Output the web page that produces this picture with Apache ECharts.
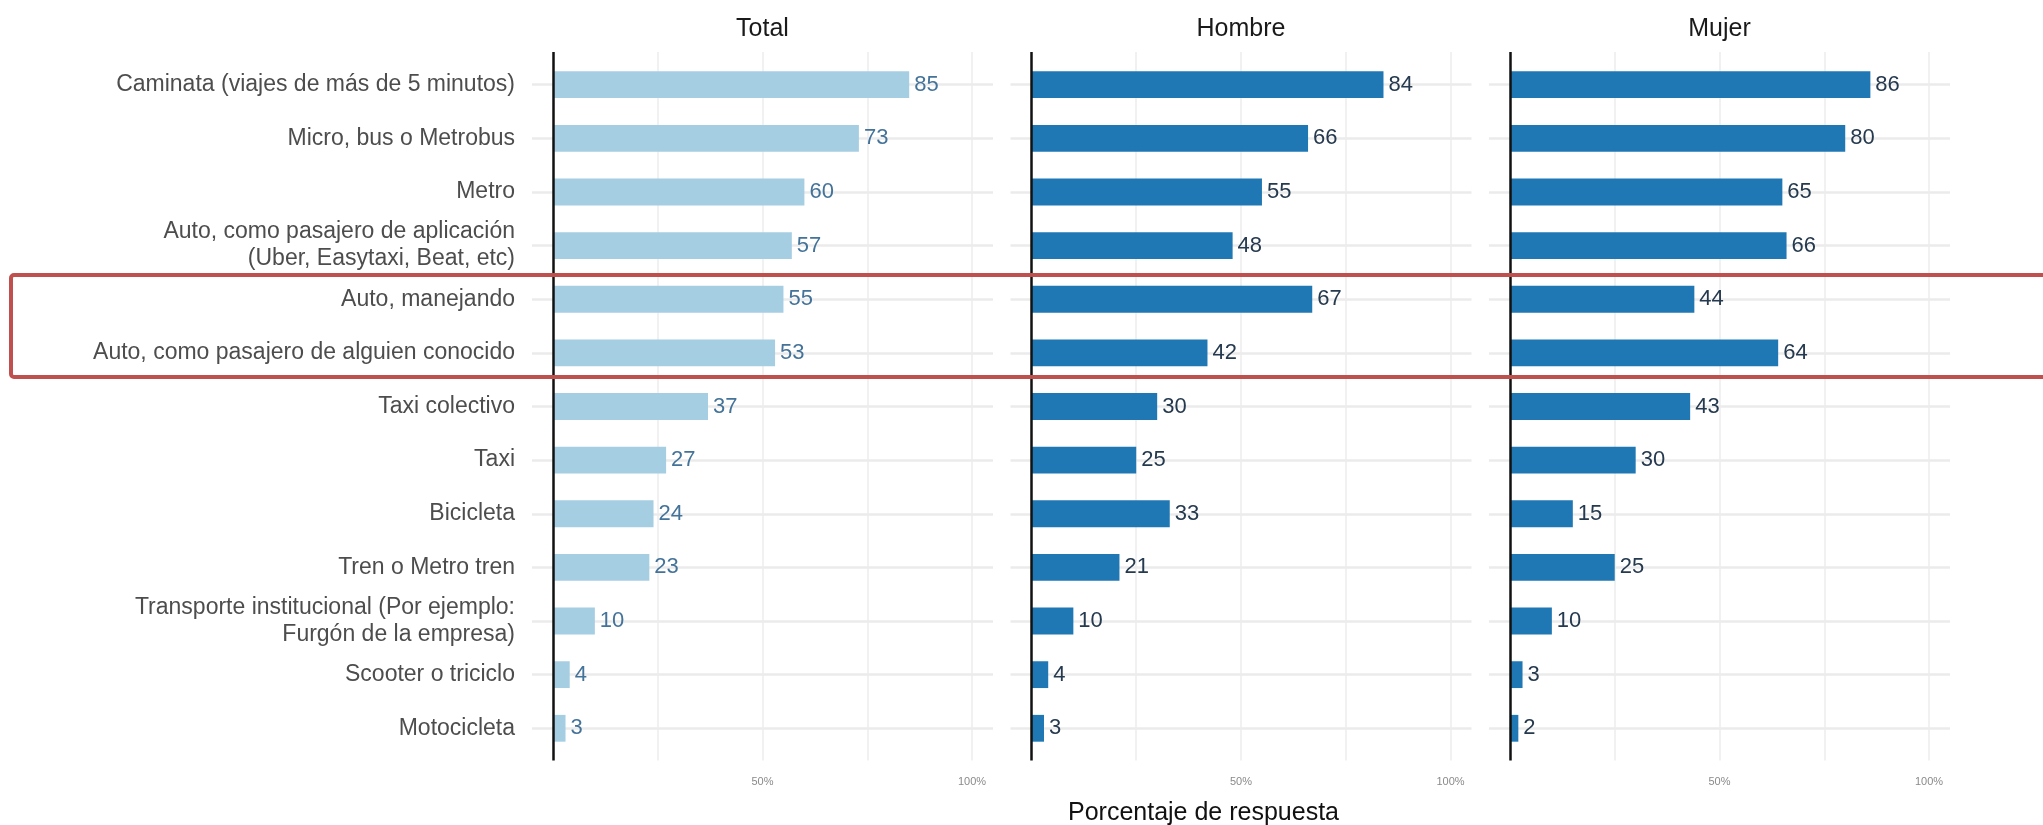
<!DOCTYPE html>
<html>
<head>
<meta charset="utf-8">
<script src="https://cdn.jsdelivr.net/npm/echarts@6/dist/echarts.min.js"></script>
<style>
html,body{margin:0;padding:0;background:#fff;}
#main{width:2043px;height:825px;}
</style>
</head>
<body>
<div id="main"></div>
<script>
// ---- data ----
const categories = [
  "Caminata (viajes de más de 5 minutos)",
  "Micro, bus o Metrobus",
  "Metro",
  "Auto, como pasajero de aplicación\n(Uber, Easytaxi, Beat, etc)",
  "Auto, manejando",
  "Auto, como pasajero de alguien conocido",
  "Taxi colectivo",
  "Taxi",
  "Bicicleta",
  "Tren o Metro tren",
  "Transporte institucional (Por ejemplo:\nFurgón de la empresa)",
  "Scooter o triciclo",
  "Motocicleta"
];
const panelTitles = ["Total", "Hombre", "Mujer"];
const totalValues  = [85, 73, 60, 57, 55, 53, 37, 27, 24, 23, 10, 4, 3];
const hombreValues = [84, 66, 55, 48, 67, 42, 30, 25, 33, 21, 10, 4, 3];
const mujerValues  = [86, 80, 65, 66, 44, 64, 43, 30, 15, 25, 10, 3, 2];
const tickLabels = [50, 100];
const gridValues = [25, 50, 75, 100];
const axisTitle = "Porcentaje de respuesta";

// ---- layout / style ----
const FONT = "'Liberation Sans', Arial, Helvetica, sans-serif";
const panelValues = [totalValues, hombreValues, mujerValues];
const barColors = ["#a6cee3", "#1f78b4", "#1f78b4"];
const labelColors = ["#44739a", "#25394f", "#25394f"];
const X0 = 532, STEP = 478.5, W = 461;
const MAIN_TOP = 57.9, MAIN_H = 697.2;
const OV_TOP = 52, OV_H = 708.5;

const grids = [], xAxes = [], yAxes = [], series = [];
for (let p = 0; p < 3; p++) {
  grids.push({left: X0 + STEP * p, top: MAIN_TOP, width: W, height: MAIN_H});
}
for (let p = 0; p < 3; p++) {
  grids.push({left: X0 + STEP * p, top: OV_TOP, width: W, height: OV_H});
}
for (let p = 0; p < 3; p++) {
  xAxes.push({
    gridIndex: p, type: 'value', min: -5, max: 105, position: 'top',
    axisLine: {show: false}, axisTick: {show: false}, axisLabel: {show: false}, splitLine: {show: false},
    name: panelTitles[p], nameLocation: 'middle', nameGap: 16,
    nameTextStyle: {fontSize: 25, color: '#1a1a1a', fontFamily: FONT}
  });
  yAxes.push({
    gridIndex: p, type: 'category', data: categories, inverse: true,
    axisLine: {show: false}, axisTick: {show: false}, splitLine: {show: false},
    axisLabel: {show: p === 0, fontSize: 23, color: '#4d4d4d', margin: 17, lineHeight: 27, fontFamily: FONT}
  });
}
for (let p = 0; p < 3; p++) {
  xAxes.push({
    gridIndex: 3 + p, type: 'value', min: -5, max: 105, interval: 5, position: 'bottom',
    axisLine: {show: false}, axisTick: {show: false}, splitLine: {show: false},
    axisLabel: {
      fontSize: 11, color: '#8a8a8a', margin: 16, fontFamily: FONT,
      showMinLabel: true, showMaxLabel: true,
      formatter: v => tickLabels.indexOf(v) >= 0 ? v + '%' : ''
    }
  });
  yAxes.push({gridIndex: 3 + p, type: 'value', min: 0, max: 1, show: false});
}
for (let p = 0; p < 3; p++) {
  // horizontal row gridlines
  series.push({
    type: 'line', xAxisIndex: p, yAxisIndex: p, data: [], z: 1, silent: true,
    markLine: {
      z: 1, symbol: 'none', silent: true, label: {show: false}, animation: false,
      lineStyle: {color: '#ebebeb', width: 2.5, type: 'solid'},
      emphasis: {disabled: true},
      data: categories.map((c, i) => ({yAxis: i}))
    }
  });
  // vertical gridlines
  series.push({
    type: 'line', xAxisIndex: 3 + p, yAxisIndex: 3 + p, data: [], z: 1, silent: true,
    markLine: {
      z: 1, symbol: 'none', silent: true, label: {show: false}, animation: false,
      lineStyle: {color: '#ededed', width: 1.5, type: 'solid'},
      emphasis: {disabled: true},
      data: gridValues.map(v => ({xAxis: v}))
    }
  });
  // bars
  series.push({
    type: 'bar', xAxisIndex: p, yAxisIndex: p, data: panelValues[p], barWidth: 26.8, z: 3,
    itemStyle: {color: barColors[p]},
    label: {show: true, position: 'right', distance: 5, fontSize: 22, color: labelColors[p], fontFamily: FONT}
  });
  // zero line
  series.push({
    type: 'line', xAxisIndex: 3 + p, yAxisIndex: 3 + p, data: [], z: 10, silent: true,
    markLine: {
      z: 10, symbol: 'none', silent: true, label: {show: false}, animation: false,
      lineStyle: {color: '#111111', width: 2.5, type: 'solid'},
      emphasis: {disabled: true},
      data: [{xAxis: 0}]
    }
  });
}

const chart = echarts.init(document.getElementById('main'), null, {renderer: 'canvas'});
chart.setOption({
  backgroundColor: '#ffffff',
  animation: false,
  title: {
    text: axisTitle, left: 1068, top: 801, padding: 0,
    textStyle: {fontSize: 25, fontWeight: 'normal', color: '#111111', fontFamily: FONT}
  },
  grid: grids,
  xAxis: xAxes,
  yAxis: yAxes,
  series: series,
  graphic: [{
    type: 'rect', z: 100,
    shape: {x: 11, y: 275, width: 2060, height: 102, r: 3},
    style: {fill: 'none', stroke: '#c0504d', lineWidth: 4}
  }]
});
</script>
</body>
</html>
